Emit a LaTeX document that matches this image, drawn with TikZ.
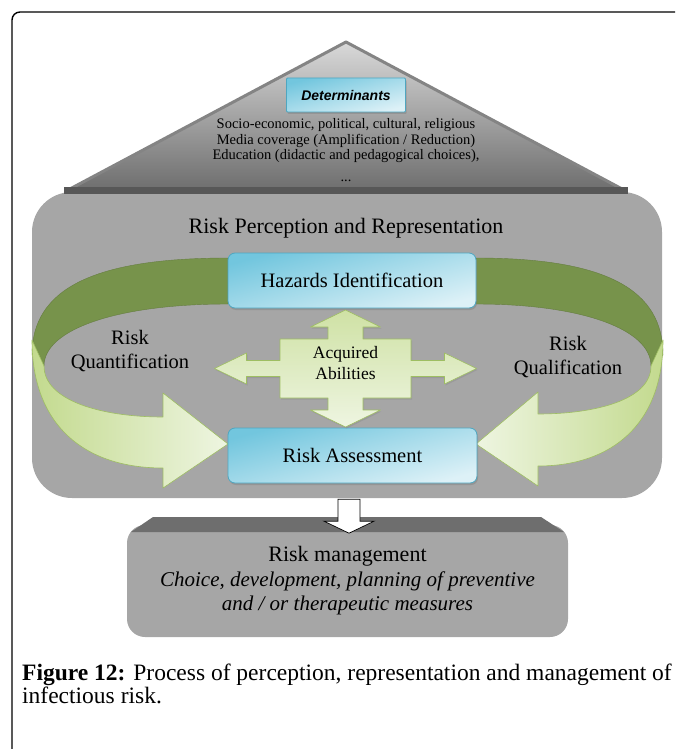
\documentclass[tikz,border=0pt]{standalone}
\usepackage{fontspec}
\setmainfont{Liberation Serif}
\setsansfont{Liberation Sans}
\usetikzlibrary{shadows,positioning}

\definecolor{panelgray}{HTML}{A6A6A6}
\definecolor{roofdark}{HTML}{6E6E6E}
\definecolor{roofbase}{HTML}{575757}
\definecolor{boxblue}{HTML}{72C6DE}
\definecolor{boxpale}{HTML}{DDF1F7}
\definecolor{boxedge}{HTML}{4FA6C0}
\definecolor{leafdark}{HTML}{77934B}
\definecolor{leafmid}{HTML}{C3DA8E}
\definecolor{leafpale}{HTML}{EEF5E1}
\definecolor{leafedge}{HTML}{9EBE62}

\newcommand{\fsz}[2]{\fontsize{#1}{#2}\selectfont}

\tikzset{
  bluebox/.style={draw=boxedge, line width=0.8pt, rounded corners=7pt,
    top color=boxblue, bottom color=boxpale, shading angle=15,
    drop shadow={shadow xshift=1pt, shadow yshift=-2pt, opacity=0.45},
    inner sep=0pt, font=\fsz{20.5}{24}},
  detbox/.style={bluebox, rounded corners=1pt,
    font=\sffamily\bfseries\itshape\fsz{14}{16}},
  panel/.style={fill=panelgray, rounded corners=40pt, inner sep=0pt},
  mgmtbox/.style={fill=panelgray, rounded corners=18pt, inner sep=0pt,
    align=center, font=\fsz{21}{24.5}},
  band/.style={fill=leafdark, draw=leafdark!85!black, line width=0.4pt},
  leaf/.style={draw=leafedge, line width=0.6pt, line join=round},
  label/.style={align=center, font=\fsz{20.5}{24}},
}

\begin{document}
\begin{tikzpicture}[x=1pt, y=-1pt]
  \useasboundingbox (0,0) rectangle (675,749);

  % page frame
  \draw[line width=1.4pt, rounded corners=8pt] (12,749) -- (12,12) -- (675,12);

  % big grey panel
  \node[panel, minimum width=630pt, minimum height=306pt] (percep) at (347,345) {};
  \node[font=\fsz{22}{26}] (ptitle) at (346,228) {Risk Perception and Representation};

  % roof with the determinants
  \coordinate (apex) at (346,42);
  \coordinate (eaveL) at (68,190);
  \coordinate (eaveR) at (624,190);
  \shade[top color=gray!30, middle color=gray!8, bottom color=roofdark]
    (apex) -- (eaveR) -- (eaveL) -- cycle;
  \draw[roofdark!85, line width=3pt, line join=round] (eaveL) -- (apex) -- (eaveR);
  \fill[roofbase] (64,187) rectangle (628,194);

  \node[detbox, minimum width=119pt, minimum height=34pt] (det) at (346,95) {Determinants};
  \node[align=center, font=\fsz{14.5}{15.5}, below=3pt of det] (detlist)
    {Socio-economic, political, cultural, religious\\
     Media coverage (Amplification / Reduction)\\
     Education (didactic and pedagogical choices),\\[6pt]
     ...};

  % left curved arrow (quantification)
  \draw[band] (228,258) .. controls (91,258) and (32,290) .. (32,355)
    -- (44,366) .. controls (44,329) and (118,304) .. (228,304) -- cycle;
  \draw[leaf, left color=leafmid, right color=leafpale]
    (32,340) .. controls (32,425) and (84,468) .. (163,468)
    -- (163,488) -- (228,444) -- (163,393) -- (163,417)
    .. controls (100,417) and (44,400) .. (44,366) -- cycle;
  \node[label] (quant) at (130,351) {Risk\\Quantification};

  % right curved arrow (qualification)
  \draw[band] (476,258) .. controls (607,258) and (663,290) .. (663,355)
    -- (651,366) .. controls (651,329) and (581,304) .. (476,304) -- cycle;
  \draw[leaf, left color=leafpale, right color=leafmid]
    (663,340) .. controls (663,425) and (611,466) .. (538,466)
    -- (538,486) -- (476,444) -- (538,392) -- (538,414)
    .. controls (595,414) and (651,400) .. (651,366) -- cycle;
  \node[label] (qual) at (568,357) {Risk\\Qualification};

  % the two process boxes
  \node[bluebox, minimum width=248pt, minimum height=55pt] (hazard) at (352,280.5) {Hazards Identification};
  \node[bluebox, minimum width=249pt, minimum height=55pt] (assess) at (352.5,455.5) {Risk Assessment};

  % four-way arrow in the middle
  \coordinate (hub) at (345.5,368.5);
  \begin{scope}[shift={(hub)}]
    \draw[leaf, top color=leafmid!80!white, bottom color=leafpale,
          drop shadow={shadow xshift=1pt, shadow yshift=-1.5pt, opacity=0.3}]
      (0,-58.5) -- (35,-41.5) -- (17.5,-41.5) -- (17.5,-29.5) -- (65.5,-29.5)
      -- (65.5,-8) -- (99,-8) -- (99,-15.5) -- (131,0) -- (99,15.5) -- (99,8)
      -- (65.5,8) -- (65.5,29.5) -- (17.5,29.5) -- (17.5,41.5) -- (35,41.5)
      -- (0,58.5) -- (-35,41.5) -- (-17.5,41.5) -- (-17.5,29.5) -- (-65.5,29.5)
      -- (-65.5,8) -- (-99,8) -- (-99,15.5) -- (-131,0) -- (-99,-15.5) -- (-99,-8)
      -- (-65.5,-8) -- (-65.5,-29.5) -- (-17.5,-29.5) -- (-17.5,-41.5)
      -- (-35,-41.5) -- cycle;
  \end{scope}
  \node[align=center, font=\fsz{17.5}{21}] (abil) at (345.5,363) {Acquired\\Abilities};

  % risk management box
  \node[mgmtbox, minimum width=441pt, minimum height=112pt] (mgmt) at (347.5,581)
    {{\fsz{22}{24.5}Risk management}\\
     {\itshape Choice, development, planning of preventive}\\
     {\itshape and / or therapeutic measures}};
  \fill[roofdark] (153,517) -- (541,517) -- (564,532) -- (131,532) -- cycle;

  % hollow arrow down to risk management
  \begin{scope}[shift={(percep.south)}, xshift=2pt]
    \draw[fill=white, line width=0.7pt, line join=miter]
      (-11,1) -- (11,1) -- (11,23) -- (25,23) -- (0,35) -- (-25,23) -- (-11,23) -- cycle;
  \end{scope}

  % caption
  \node[anchor=base west, inner sep=0pt, font=\fsz{23.5}{23}] (cap1) at (22,680)
    {\textbf{Figure 12:} Process of perception, representation and management of};
  \node[anchor=base west, inner sep=0pt, font=\fsz{23.5}{23}] (cap2) at (22,703)
    {infectious risk.};
\end{tikzpicture}
\end{document}
